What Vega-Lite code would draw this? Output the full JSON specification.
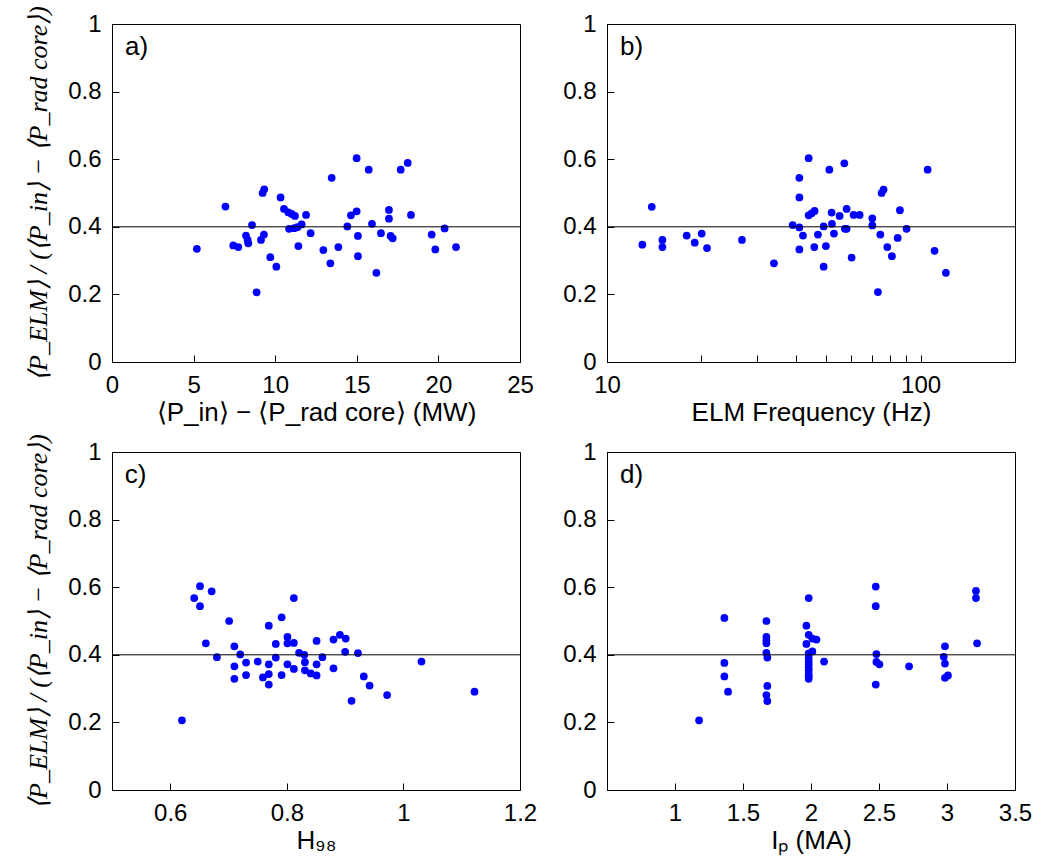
{
  "$schema": "https://vega.github.io/schema/vega-lite/v6.json",
  "background": "white",
  "autosize": {"type": "pad"},
  "padding": {"left": 25, "top": 5, "right": 5, "bottom": 5},
  "datasets": {
    "a": [
      {"x": 5.2, "y": 0.335}, {"x": 6.95, "y": 0.46}, {"x": 7.43, "y": 0.345}, {"x": 7.74, "y": 0.34},
      {"x": 8.21, "y": 0.374}, {"x": 8.31, "y": 0.361}, {"x": 8.35, "y": 0.351}, {"x": 8.58, "y": 0.405},
      {"x": 8.86, "y": 0.206}, {"x": 9.13, "y": 0.361}, {"x": 9.23, "y": 0.5}, {"x": 9.33, "y": 0.511},
      {"x": 9.31, "y": 0.377}, {"x": 9.7, "y": 0.31}, {"x": 10.07, "y": 0.282}, {"x": 10.33, "y": 0.487},
      {"x": 10.54, "y": 0.453}, {"x": 10.8, "y": 0.443}, {"x": 10.85, "y": 0.394}, {"x": 11.01, "y": 0.438},
      {"x": 11.21, "y": 0.432}, {"x": 11.17, "y": 0.396}, {"x": 11.36, "y": 0.399}, {"x": 11.42, "y": 0.343},
      {"x": 11.62, "y": 0.407}, {"x": 11.89, "y": 0.435}, {"x": 12.17, "y": 0.381}, {"x": 12.95, "y": 0.331},
      {"x": 13.38, "y": 0.292}, {"x": 13.46, "y": 0.545}, {"x": 13.87, "y": 0.34}, {"x": 14.42, "y": 0.401},
      {"x": 14.64, "y": 0.434}, {"x": 14.99, "y": 0.603}, {"x": 14.99, "y": 0.446}, {"x": 15.07, "y": 0.373},
      {"x": 15.07, "y": 0.313}, {"x": 15.73, "y": 0.569}, {"x": 15.93, "y": 0.409}, {"x": 16.2, "y": 0.264},
      {"x": 16.48, "y": 0.381}, {"x": 16.97, "y": 0.45}, {"x": 16.97, "y": 0.424}, {"x": 17.07, "y": 0.373},
      {"x": 17.2, "y": 0.366}, {"x": 17.69, "y": 0.569}, {"x": 18.12, "y": 0.589}, {"x": 18.32, "y": 0.435},
      {"x": 19.59, "y": 0.377}, {"x": 19.81, "y": 0.333}, {"x": 20.38, "y": 0.395}, {"x": 21.08, "y": 0.34}
    ],
    "b": [
      {"x": 12.96, "y": 0.347}, {"x": 13.89, "y": 0.459}, {"x": 15.02, "y": 0.361}, {"x": 15.02, "y": 0.34},
      {"x": 17.95, "y": 0.374}, {"x": 19.04, "y": 0.353}, {"x": 20.04, "y": 0.38}, {"x": 20.84, "y": 0.337},
      {"x": 26.94, "y": 0.361}, {"x": 34.07, "y": 0.292}, {"x": 39.08, "y": 0.405}, {"x": 41.06, "y": 0.545},
      {"x": 41.06, "y": 0.487}, {"x": 41.06, "y": 0.398}, {"x": 41.06, "y": 0.333}, {"x": 42.16, "y": 0.374},
      {"x": 43.96, "y": 0.603}, {"x": 43.96, "y": 0.434}, {"x": 44.93, "y": 0.44}, {"x": 45.92, "y": 0.447},
      {"x": 45.82, "y": 0.34}, {"x": 47.06, "y": 0.377}, {"x": 49.07, "y": 0.282}, {"x": 49.07, "y": 0.401},
      {"x": 49.9, "y": 0.343}, {"x": 51.17, "y": 0.569}, {"x": 52.04, "y": 0.442}, {"x": 52.16, "y": 0.409},
      {"x": 52.93, "y": 0.38}, {"x": 55.18, "y": 0.432}, {"x": 57.12, "y": 0.588}, {"x": 57.37, "y": 0.394},
      {"x": 58.09, "y": 0.453}, {"x": 58.09, "y": 0.394}, {"x": 60.26, "y": 0.309}, {"x": 61.15, "y": 0.435},
      {"x": 63.92, "y": 0.435}, {"x": 70.15, "y": 0.425}, {"x": 70.15, "y": 0.404}, {"x": 73.11, "y": 0.207},
      {"x": 74.4, "y": 0.377}, {"x": 75.1, "y": 0.5}, {"x": 76.2, "y": 0.51}, {"x": 78.3, "y": 0.34},
      {"x": 81.0, "y": 0.313}, {"x": 84.5, "y": 0.367}, {"x": 85.9, "y": 0.449}, {"x": 90.2, "y": 0.394},
      {"x": 105.3, "y": 0.569}, {"x": 110.8, "y": 0.329}, {"x": 120.4, "y": 0.264}
    ],
    "c": [
      {"x": 0.62, "y": 0.206}, {"x": 0.641, "y": 0.568}, {"x": 0.651, "y": 0.603}, {"x": 0.651, "y": 0.544},
      {"x": 0.661, "y": 0.434}, {"x": 0.671, "y": 0.588}, {"x": 0.68, "y": 0.393}, {"x": 0.701, "y": 0.5},
      {"x": 0.71, "y": 0.425}, {"x": 0.71, "y": 0.366}, {"x": 0.71, "y": 0.329}, {"x": 0.72, "y": 0.401},
      {"x": 0.73, "y": 0.377}, {"x": 0.73, "y": 0.34}, {"x": 0.75, "y": 0.38}, {"x": 0.759, "y": 0.333},
      {"x": 0.769, "y": 0.486}, {"x": 0.769, "y": 0.372}, {"x": 0.769, "y": 0.343}, {"x": 0.769, "y": 0.312},
      {"x": 0.781, "y": 0.432}, {"x": 0.781, "y": 0.392}, {"x": 0.791, "y": 0.511}, {"x": 0.791, "y": 0.34},
      {"x": 0.801, "y": 0.453}, {"x": 0.801, "y": 0.434}, {"x": 0.801, "y": 0.372}, {"x": 0.812, "y": 0.568},
      {"x": 0.812, "y": 0.435}, {"x": 0.812, "y": 0.358}, {"x": 0.821, "y": 0.406}, {"x": 0.83, "y": 0.4},
      {"x": 0.831, "y": 0.378}, {"x": 0.831, "y": 0.354}, {"x": 0.841, "y": 0.345}, {"x": 0.851, "y": 0.441},
      {"x": 0.851, "y": 0.372}, {"x": 0.851, "y": 0.339}, {"x": 0.861, "y": 0.393}, {"x": 0.88, "y": 0.445},
      {"x": 0.88, "y": 0.36}, {"x": 0.891, "y": 0.459}, {"x": 0.901, "y": 0.448}, {"x": 0.9, "y": 0.409},
      {"x": 0.911, "y": 0.264}, {"x": 0.922, "y": 0.405}, {"x": 0.932, "y": 0.336}, {"x": 0.942, "y": 0.309},
      {"x": 0.972, "y": 0.281}, {"x": 1.031, "y": 0.38}, {"x": 1.122, "y": 0.291}
    ],
    "d": [
      {"x": 1.177, "y": 0.206}, {"x": 1.363, "y": 0.509}, {"x": 1.363, "y": 0.376}, {"x": 1.363, "y": 0.336},
      {"x": 1.39, "y": 0.291}, {"x": 1.672, "y": 0.5}, {"x": 1.672, "y": 0.453}, {"x": 1.672, "y": 0.443},
      {"x": 1.672, "y": 0.434}, {"x": 1.672, "y": 0.406}, {"x": 1.679, "y": 0.392}, {"x": 1.679, "y": 0.308},
      {"x": 1.672, "y": 0.281}, {"x": 1.679, "y": 0.263}, {"x": 1.983, "y": 0.568}, {"x": 1.966, "y": 0.486},
      {"x": 1.966, "y": 0.432}, {"x": 1.983, "y": 0.459}, {"x": 2.01, "y": 0.448}, {"x": 2.04, "y": 0.445},
      {"x": 1.983, "y": 0.404}, {"x": 2.01, "y": 0.41}, {"x": 1.983, "y": 0.391}, {"x": 1.983, "y": 0.371},
      {"x": 1.983, "y": 0.354}, {"x": 1.983, "y": 0.343}, {"x": 1.983, "y": 0.329}, {"x": 1.983, "y": 0.336},
      {"x": 1.983, "y": 0.362}, {"x": 1.983, "y": 0.38}, {"x": 2.096, "y": 0.38}, {"x": 2.476, "y": 0.602},
      {"x": 2.476, "y": 0.544}, {"x": 2.481, "y": 0.402}, {"x": 2.481, "y": 0.379}, {"x": 2.503, "y": 0.372},
      {"x": 2.476, "y": 0.312}, {"x": 2.721, "y": 0.366}, {"x": 2.985, "y": 0.425}, {"x": 2.976, "y": 0.394},
      {"x": 2.985, "y": 0.374}, {"x": 2.985, "y": 0.332}, {"x": 3.007, "y": 0.339}, {"x": 3.213, "y": 0.589},
      {"x": 3.213, "y": 0.568}, {"x": 3.221, "y": 0.434}
    ]
  },
  "columns": 2,
  "spacing": {"row": 90, "column": 87},
  "bounds": "flush",
  "concat": [
    {
      "width": 408, "height": 338,
      "layer": [
        {
          "data": {"name": "a"},
          "mark": {"type": "circle", "color": "#0000ff", "opacity": 1, "size": 60},
          "encoding": {
            "x": {"field": "x", "type": "quantitative", "scale": {"domain": [0, 25], "nice": false, "zero": false},
                  "axis": {"values": [0, 5, 10, 15, 20, 25], "format": "d", "title": "⟨P_in⟩ − ⟨P_rad core⟩ (MW)"}},
            "y": {"field": "y", "type": "quantitative", "scale": {"domain": [0, 1], "nice": false},
                  "axis": {"values": [0, 0.2, 0.4, 0.6, 0.8, 1], "format": "~g", "title": "⟨P_ELM⟩ / (⟨P_in⟩ − ⟨P_rad core⟩)",
                           "titleFont": "Liberation Serif", "titleFontStyle": "italic", "titlePadding": 16}}
          }
        },
        {"data": {"values": [{"level": 0.4}]}, "mark": {"type": "rule", "color": "black", "strokeWidth": 1},
         "encoding": {"y": {"field": "level", "type": "quantitative"}}},
        {"data": {"values": [{"label": "a)"}]},
         "mark": {"type": "text", "align": "left", "baseline": "middle", "fontSize": 26, "fontWeight": "normal", "font": "Liberation Sans", "fill": "black"},
         "encoding": {"text": {"field": "label"}, "x": {"datum": 0.8, "type": "quantitative"}, "y": {"datum": 0.932, "type": "quantitative"}}}
      ]
    },
    {
      "width": 408, "height": 338,
      "layer": [
        {
          "data": {"name": "b"},
          "mark": {"type": "circle", "color": "#0000ff", "opacity": 1, "size": 60},
          "encoding": {
            "x": {"field": "x", "type": "quantitative", "scale": {"type": "log", "domain": [10, 200], "nice": false},
                  "axis": {"values": [10, 20, 30, 40, 50, 60, 70, 80, 90, 100, 200],
                           "labelExpr": "datum.value == 10 || datum.value == 100 ? format(datum.value, 'd') : ''",
                           "title": "ELM Frequency (Hz)"}},
            "y": {"field": "y", "type": "quantitative", "scale": {"domain": [0, 1], "nice": false},
                  "axis": {"values": [0, 0.2, 0.4, 0.6, 0.8, 1], "format": "~g", "title": null}}
          }
        },
        {"data": {"values": [{"level": 0.4}]}, "mark": {"type": "rule", "color": "black", "strokeWidth": 1},
         "encoding": {"y": {"field": "level", "type": "quantitative"}}},
        {"data": {"values": [{"label": "b)"}]},
         "mark": {"type": "text", "align": "left", "baseline": "middle", "fontSize": 26, "fontWeight": "normal", "font": "Liberation Sans", "fill": "black"},
         "encoding": {"text": {"field": "label"}, "x": {"datum": 11.0, "type": "quantitative"}, "y": {"datum": 0.932, "type": "quantitative"}}}
      ]
    },
    {
      "width": 408, "height": 338,
      "layer": [
        {
          "data": {"name": "c"},
          "mark": {"type": "circle", "color": "#0000ff", "opacity": 1, "size": 60},
          "encoding": {
            "x": {"field": "x", "type": "quantitative", "scale": {"domain": [0.5, 1.2], "nice": false, "zero": false},
                  "axis": {"values": [0.6, 0.8, 1, 1.2], "format": "~g", "title": "H₉₈"}},
            "y": {"field": "y", "type": "quantitative", "scale": {"domain": [0, 1], "nice": false},
                  "axis": {"values": [0, 0.2, 0.4, 0.6, 0.8, 1], "format": "~g", "title": "⟨P_ELM⟩ / (⟨P_in⟩ − ⟨P_rad core⟩)",
                           "titleFont": "Liberation Serif", "titleFontStyle": "italic", "titlePadding": 16}}
          }
        },
        {"data": {"values": [{"level": 0.4}]}, "mark": {"type": "rule", "color": "black", "strokeWidth": 1},
         "encoding": {"y": {"field": "level", "type": "quantitative"}}},
        {"data": {"values": [{"label": "c)"}]},
         "mark": {"type": "text", "align": "left", "baseline": "middle", "fontSize": 26, "fontWeight": "normal", "font": "Liberation Sans", "fill": "black"},
         "encoding": {"text": {"field": "label"}, "x": {"datum": 0.522, "type": "quantitative"}, "y": {"datum": 0.932, "type": "quantitative"}}}
      ]
    },
    {
      "width": 408, "height": 338,
      "layer": [
        {
          "data": {"name": "d"},
          "mark": {"type": "circle", "color": "#0000ff", "opacity": 1, "size": 60},
          "encoding": {
            "x": {"field": "x", "type": "quantitative", "scale": {"domain": [0.5, 3.5], "nice": false, "zero": false},
                  "axis": {"values": [1, 1.5, 2, 2.5, 3, 3.5], "format": "~g", "title": "Iₚ (MA)"}},
            "y": {"field": "y", "type": "quantitative", "scale": {"domain": [0, 1], "nice": false},
                  "axis": {"values": [0, 0.2, 0.4, 0.6, 0.8, 1], "format": "~g", "title": null}}
          }
        },
        {"data": {"values": [{"level": 0.4}]}, "mark": {"type": "rule", "color": "black", "strokeWidth": 1},
         "encoding": {"y": {"field": "level", "type": "quantitative"}}},
        {"data": {"values": [{"label": "d)"}]},
         "mark": {"type": "text", "align": "left", "baseline": "middle", "fontSize": 26, "fontWeight": "normal", "font": "Liberation Sans", "fill": "black"},
         "encoding": {"text": {"field": "label"}, "x": {"datum": 0.596, "type": "quantitative"}, "y": {"datum": 0.932, "type": "quantitative"}}}
      ]
    }
  ],
  "config": {
    "view": {"stroke": "black", "strokeWidth": 1},
    "axis": {
      "grid": false, "domainColor": "black", "domainWidth": 1, "tickColor": "black", "tickSize": -7, "tickWidth": 1,
      "labelPadding": 18, "labelFont": "Liberation Sans", "labelFontSize": 24, "labelColor": "black",
      "titleFont": "Liberation Sans", "titleFontSize": 26, "titleFontWeight": "normal", "titleColor": "black",
      "labelFlush": false, "labelOverlap": false
    },
    "axisX": {"titlePadding": 2}
  }
}
